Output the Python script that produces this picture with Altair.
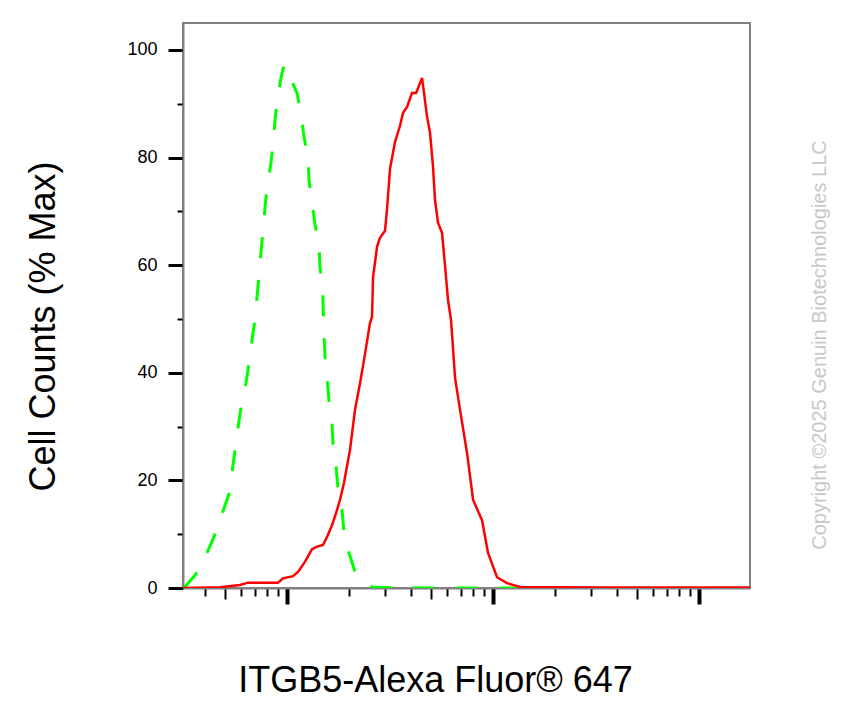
import altair as alt
import pandas as pd

# Isotype control (green, dashed)
green_x = [313, 320, 358, 404, 442, 484, 523, 541, 559, 578, 598, 632, 654, 676, 699,
           715, 731, 748, 765, 782, 800, 836, 855, 875, 894, 935, 967, 1011, 1057, 1118,
           1169, 1209, 1265, 1279, 1322, 1368, 1430, 1446, 1490, 1500, 1512, 1529, 1564,
           1599, 1654, 1672, 1730, 1769, 1849, 1891, 2000, 2163, 2365, 2586, 2828, 6183,
           18910, 57830, 176800]
green_y = [0, 0.24, 2.4, 6.1, 9.5, 13.8, 17.5, 21.6, 25.5, 29.7, 33.6, 38.1, 41.8, 46.1, 49.8,
           54.1, 58.2, 62.5, 66.5, 70.8, 74.5, 79.0, 82.7, 87.0, 90.7, 94.8, 97.2, 96.3, 94.1, 92.0,
           88.1, 83.8, 79.9, 75.7, 71.7, 67.5, 63.8, 59.5, 55.6, 51.1, 47.2, 42.9, 39.0,
           34.8, 30.7, 26.6, 22.5, 18.4, 14.5, 10.2, 6.5, 2.4, 1.1, 0.2, 0.1, 0,
           0, 0, 0]

# ITGB5 stained (red, solid)
red_x = [313, 473, 591, 647, 904, 956, 1069, 1131, 1223, 1322, 1398, 1495, 1564, 1654, 1730,
         1808, 1891, 2022, 2138, 2262, 2365, 2529, 2586, 2616, 2735, 2828, 2990, 3058, 3162,
         3344, 3536, 3657, 3824, 4044, 4229, 4325, 4523, 4624, 4782, 4946, 5113, 5229, 5408,
         5655, 5848, 6048, 6254, 6540, 6917, 7478, 7998, 8843, 9456, 10460, 11690, 13530,
         33060, 101100, 176800]
red_y = [0, 0.13, 0.56, 0.99, 0.99, 1.8, 2.2, 3.0, 4.9, 7.2, 7.7, 8.0, 9.5, 11.7, 13.9,
         16.4, 19.6, 25.7, 33.1, 38.1, 42.4, 49.3, 50.4, 57.8, 63.4, 65.1, 66.4, 70.4, 77.9,
         82.9, 85.9, 88.3, 89.4, 92.0, 92.0, 92.9, 94.8, 92.0, 87.6, 84.6, 78.3, 72.1, 67.9,
         66.0, 59.9, 53.5, 49.8, 39.1, 33.1, 25.1, 16.4, 12.6, 6.5, 2.0, 0.9, 0.2,
         0.1, 0.1, 0.1]

x_ticks = [400, 500, 600, 700, 800, 900, 1000,
           2000, 3000, 4000, 5000, 6000, 7000, 8000, 9000, 10000,
           20000, 30000, 40000, 50000, 60000, 70000, 80000, 90000, 100000]
y_ticks = [0, 5, 10, 15, 20, 25, 30, 35, 40, 45, 50, 55, 60, 65, 70, 75, 80, 85, 90, 95, 100, 105]
x_domain = [312.6, 176800]
y_domain = [0, 105]

x_title = "ITGB5-Alexa Fluor® 647"
y_title = "Cell Counts (% Max)"
copyright_text = "Copyright ©2025 Genuin Biotechnologies LLC"

FONT = "Liberation Sans"

green_df = pd.DataFrame({"intensity": green_x, "pct": green_y})
red_df = pd.DataFrame({"intensity": red_x, "pct": red_y})
note_df = pd.DataFrame({"t": [copyright_text]})

x_scale = alt.Scale(type="log", domain=x_domain, nice=False)
y_scale = alt.Scale(domain=y_domain, nice=False, zero=True)

major_x = "abs(log(datum.value)/LN10 - round(log(datum.value)/LN10)) < 0.001"
five_x = "abs(datum.value / pow(10, floor(log(datum.value)/LN10 + 0.000001)) - 5) < 0.01"

x_axis = alt.Axis(
    values=x_ticks, labels=False, grid=False, orient="bottom",
    domainColor="#808080", domainWidth=2,
    tickColor="black",
    tickSize={"condition": [{"test": major_x, "value": 16}, {"test": five_x, "value": 11}], "value": 8},
    tickWidth={"condition": {"test": major_x, "value": 4}, "value": 2},
    title=x_title, titleFont=FONT, titleFontSize=36, titleFontWeight="normal", titleColor="black",
    titleX=252, titleY=103, titleAlign="center", titleBaseline="alphabetic",
)
y_axis = alt.Axis(
    values=y_ticks, grid=False, orient="left",
    labelExpr="datum.value % 20 == 0 ? datum.label : ''",
    labelFont=FONT, labelFontSize=18, labelColor="black", labelPadding=11,
    labelOverlap=False, labelFlush=False,
    domainColor="#808080", domainWidth=2,
    tickColor="black",
    tickSize={"condition": {"test": "datum.value % 20 == 0", "value": 15}, "value": 6},
    tickWidth={"condition": {"test": "datum.value % 20 == 0", "value": 3}, "value": 2},
    title=y_title, titleFont=FONT, titleFontSize=36, titleFontWeight="normal", titleColor="black",
    titleX=-129, titleY=303, titleAngle=270, titleAlign="center", titleBaseline="alphabetic",
)

green = alt.Chart(green_df).mark_line(
    color="#00ff00", strokeWidth=3, strokeDash=[21, 22], clip=True
).encode(
    x=alt.X("intensity:Q", scale=x_scale, axis=x_axis),
    y=alt.Y("pct:Q", scale=y_scale, axis=y_axis),
)

red = alt.Chart(red_df).mark_line(
    color="#ff0000", strokeWidth=2.5, clip=True
).encode(
    x=alt.X("intensity:Q", scale=x_scale),
    y=alt.Y("pct:Q", scale=y_scale),
)

note = alt.Chart(note_df).mark_text(
    angle=270, align="center", baseline="alphabetic", font=FONT, fontSize=20, color="#c8c8c8"
).encode(
    text="t:N",
    x=alt.value(643),
    y=alt.value(322),
)

chart = alt.layer(green, red, note).properties(
    width=567, height=565,
    padding={"left": 175, "top": 15, "right": 90, "bottom": 112},
    autosize=alt.AutoSizeParams(type="none"),
    background="white",
).configure_view(
    stroke="#808080", strokeWidth=2, strokeOpacity=1
)

chart.save("out.html", embed_options={"renderer": "svg", "actions": False})
